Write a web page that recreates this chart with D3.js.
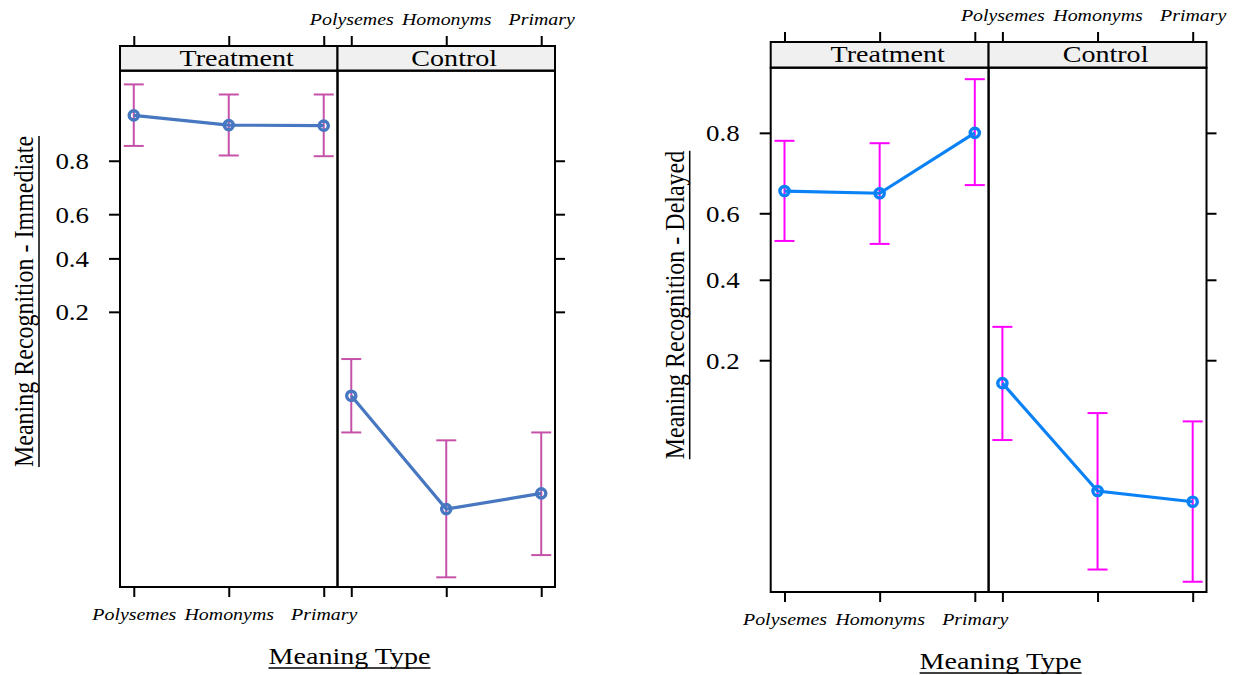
<!DOCTYPE html>
<html>
<head>
<meta charset="utf-8">
<script src="https://cdnjs.cloudflare.com/ajax/libs/d3/7.8.5/d3.min.js"></script>
<style>
  body { margin: 0; background: #fff; }
  svg { display: block; }
  text { font-family: 'Liberation Serif', 'Times New Roman', serif; fill: #000; }
</style>
</head>
<body>
<svg id="chart" width="1234" height="675"></svg>
<script>
// --- Data ---
const meaningTypes = ['Polysemes', 'Homonyms', 'Primary'];
const groups = ['Treatment', 'Control'];
const yTicks = [0.2, 0.4, 0.6, 0.8];

// Immediate test (probabilities, logit axis)
const immTreatmentFit = [0.902, 0.885, 0.884];
const immTreatmentLower = [0.840, 0.815, 0.813];
const immTreatmentUpper = [0.942, 0.931, 0.931];
const immControlFit = [0.0508, 0.00665, 0.00886];
const immControlLower = [0.0266, 0.00191, 0.00287];
const immControlUpper = [0.0951, 0.0231, 0.0266];

// Delayed test
const delTreatmentFit = [0.663, 0.657, 0.800];
const delTreatmentLower = [0.517, 0.508, 0.679];
const delTreatmentUpper = [0.784, 0.779, 0.885];
const delControlFit = [0.159, 0.0483, 0.0426];
const delControlLower = [0.0863, 0.0191, 0.0165];
const delControlUpper = [0.273, 0.116, 0.106];

// the source picture is stretched sideways, so text is too
const SX = 1.17;
const logit = p => Math.log(p / (1 - p));
const invLogit = v => 1 / (1 + Math.exp(-v));

function stretched(sel, x, y, extra = '') {
    return sel.attr('transform', `translate(${x},${y}) scale(${SX},1)${extra}`);
}

function drawChart(o) {
    const g = d3.select('#chart').append('g');
    const panelW = o.width / groups.length;

    const xPanel = d3.scaleBand().domain(groups).range([o.x0, o.x0 + o.width]);
    const x = d3.scalePoint().domain(meaningTypes).range([0, panelW]).padding(0.145);
    const y = d3.scaleLinear().domain(o.yDomain.map(logit)).range([o.bottom, o.stripBottom]);
    const yp = p => y(logit(p));

    const cleanAxis = a => {
        a.attr('font-family', null).attr('font-size', null);
        a.select('.domain').remove();
        a.selectAll('line').attr('stroke', '#000').attr('stroke-width', 2);
    };

    groups.forEach(grp => {
        const px = xPanel(grp);
        const s = o.series[grp];

        // strip
        g.append('rect')
            .attr('x', px).attr('y', o.stripTop)
            .attr('width', panelW).attr('height', o.stripBottom - o.stripTop)
            .attr('fill', '#f0f0f0').attr('stroke', '#000').attr('stroke-width', 2);
        stretched(g.append('text'), px + panelW / 2 + 8, o.stripTop + 19.5)
            .attr('text-anchor', 'middle')
            .style('font-size', '24px')
            .text(grp);

        // top axis (labels only over Control)
        g.append('g')
            .attr('transform', `translate(${px},${o.stripTop})`)
            .call(d3.axisTop(x).tickSize(10).tickFormat(d => grp === 'Control' ? d : ''))
            .call(cleanAxis)
            .selectAll('text')
            .attr('y', -21).attr('dy', null)
            .attr('transform', `scale(${SX},1)`)
            .style('font-size', '17px').style('font-style', 'italic');

        // bottom axis (labels only under Treatment)
        g.append('g')
            .attr('transform', `translate(${px},${o.bottom})`)
            .call(d3.axisBottom(x).tickSize(10).tickFormat(d => grp === 'Treatment' ? d : ''))
            .call(cleanAxis)
            .selectAll('text')
            .attr('y', 33).attr('dy', null)
            .attr('transform', `scale(${SX},1)`)
            .style('font-size', '17px').style('font-style', 'italic');

        // error bars, line, points
        const pts = meaningTypes.map((m, i) => ({ m, fit: s.fit[i], lo: s.lower[i], hi: s.upper[i] }));
        const pg = g.append('g').attr('transform', `translate(${px},0)`);

        pg.selectAll('.bar').data(pts).join('line')
            .attr('x1', d => x(d.m)).attr('x2', d => x(d.m))
            .attr('y1', d => yp(d.lo)).attr('y2', d => yp(d.hi))
            .attr('stroke', o.barColor).attr('stroke-width', 2);
        ['lo', 'hi'].forEach(k => {
            pg.selectAll('.cap-' + k).data(pts).join('line')
                .attr('x1', d => x(d.m) - 10).attr('x2', d => x(d.m) + 10)
                .attr('y1', d => yp(d[k])).attr('y2', d => yp(d[k]))
                .attr('stroke', o.barColor).attr('stroke-width', 2);
        });

        pg.append('path')
            .datum(pts)
            .attr('d', d3.line().x(d => x(d.m)).y(d => yp(d.fit)))
            .attr('fill', 'none').attr('stroke', o.lineColor).attr('stroke-width', 3.2);

        pg.selectAll('circle').data(pts).join('circle')
            .attr('cx', d => x(d.m)).attr('cy', d => yp(d.fit)).attr('r', 4.6)
            .attr('fill', 'none').attr('stroke', o.lineColor).attr('stroke-width', 3.4);

        // panel box
        g.append('rect')
            .attr('x', px).attr('y', o.stripBottom)
            .attr('width', panelW).attr('height', o.bottom - o.stripBottom)
            .attr('fill', 'none').attr('stroke', '#000').attr('stroke-width', 2);
    });

    // y axis, left with labels
    g.append('g')
        .attr('transform', `translate(${o.x0},0)`)
        .call(d3.axisLeft(y).tickValues(yTicks.map(logit)).tickSize(11)
            .tickFormat(v => d3.format('.1f')(invLogit(v))))
        .call(cleanAxis)
        .selectAll('text')
        .attr('x', -31 / SX).attr('dy', '0.34em')
        .attr('transform', `scale(${SX},1)`)
        .style('font-size', '23px');

    // y axis, right ticks only
    g.append('g')
        .attr('transform', `translate(${o.x0 + o.width},0)`)
        .call(d3.axisRight(y).tickValues(yTicks.map(logit)).tickSize(10).tickFormat(''))
        .call(cleanAxis);

    // y title with underline
    const yt = stretched(g.append('text'), o.x0 - 87, o.titleY, ' rotate(-90)')
        .attr('text-anchor', 'middle')
        .style('font-size', '24px')
        .text(o.title);
    const yLen = yt.node().getComputedTextLength();
    g.append('line')
        .attr('x1', o.x0 - 81).attr('x2', o.x0 - 81)
        .attr('y1', o.titleY - yLen / 2).attr('y2', o.titleY + yLen / 2)
        .attr('stroke', '#000').attr('stroke-width', 1.5);

    // x title with underline
    const xc = o.x0 + o.width / 2 + 12;
    const xt = stretched(g.append('text'), xc, o.bottom + 76.5)
        .attr('text-anchor', 'middle')
        .style('font-size', '24px')
        .text('Meaning Type');
    const xLen = xt.node().getComputedTextLength() * SX;
    g.append('line')
        .attr('x1', xc - xLen / 2).attr('x2', xc + xLen / 2)
        .attr('y1', o.bottom + 81).attr('y2', o.bottom + 81)
        .attr('stroke', '#000').attr('stroke-width', 1.5);
}

drawChart({
    x0: 120, width: 435,
    stripTop: 46, stripBottom: 70.7, bottom: 587,
    yDomain: [0.0016, 0.9543],
    title: 'Meaning Recognition - Immediate', titleY: 301.5,
    lineColor: '#4677c0', barColor: '#c552a8',
    series: {
        Treatment: { fit: immTreatmentFit, lower: immTreatmentLower, upper: immTreatmentUpper },
        Control: { fit: immControlFit, lower: immControlLower, upper: immControlUpper }
    }
});

drawChart({
    x0: 770.7, width: 435.8,
    stripTop: 42, stripBottom: 67.7, bottom: 592,
    yDomain: [0.01459, 0.8985],
    title: 'Meaning Recognition - Delayed', titleY: 305,
    lineColor: '#0a82f5', barColor: '#ff00ff',
    series: {
        Treatment: { fit: delTreatmentFit, lower: delTreatmentLower, upper: delTreatmentUpper },
        Control: { fit: delControlFit, lower: delControlLower, upper: delControlUpper }
    }
});
</script>
</body>
</html>
